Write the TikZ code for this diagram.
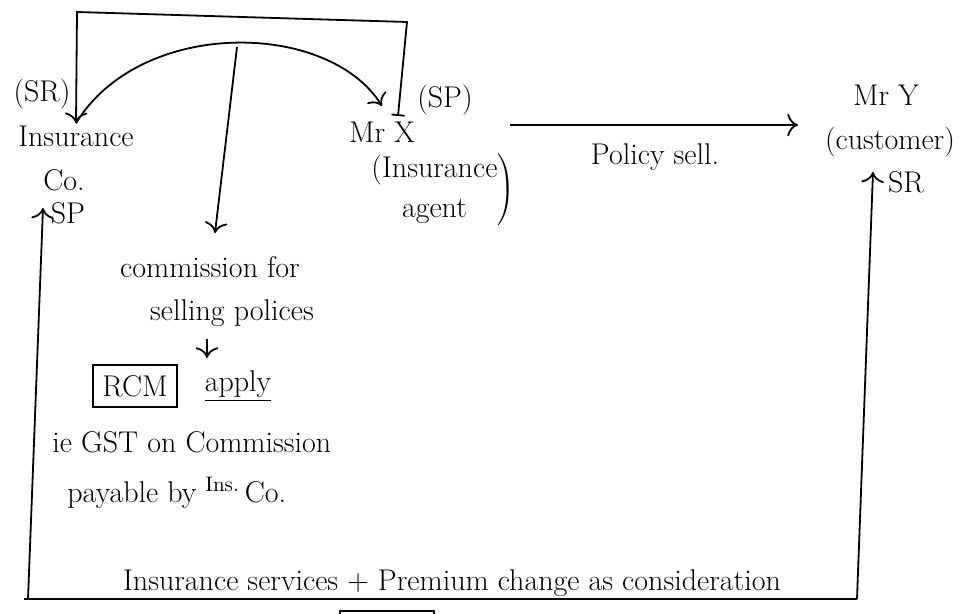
\documentclass[tikz,border=0pt]{standalone}
\usepackage{tikz}
\usetikzlibrary{calc,arrows.meta}
\tikzset{
	hand/.style={font=\fontsize{15}{18}\selectfont, inner sep=1pt},
	flow/.style={line width=0.9pt, >={To[scale=1.5]}},
}

\begin{document}
\begin{tikzpicture}[x=0.5pt, y=-0.5pt]
			%%%%% START %%%%%
			\useasboundingbox (0,0) rectangle (971,614);
			\clip (0,0) rectangle (971,614);
			
			\node[hand] (insco) at (76,136) {Insurance};
			\node[hand] (co) at (64,180) {Co.};
			\node[hand] (srTop) at (42,94) {(SR)};
			
			\node[hand] (mrx) at (382,132) {Mr X};
			\node[hand] (spTop) at (445,100) {(SP)};
			\node[hand] (agent) at (442,190) {$\left.\begin{tabular}{@{}c@{}}(Insurance\\[2pt]agent\end{tabular}\right)$};
			
			\node[hand] (mry) at (886,95) {Mr Y};
			\node[hand] (cust) at (890,142) {(customer)};
			\node[hand] (srBot) at (906,182) {SR};
			\node[hand] (spBot) at (68,213) {SP};
			
			\node[hand] (pol) at (655,157) {Policy sell.};
			
			\node[hand] (comm) at (210,267) {commission for};
			\node[hand] (sellp) at (232,313) {selling polices};
			\node[hand, draw, line width=0.9pt, minimum width=42pt, minimum height=21pt] (rcm) at (135,386) {RCM};
			\node[hand] (apply) at (238,386) {\underline{apply}};
			\node[hand, anchor=west] (gst) at (50,442) {ie GST on Commission};
			\node[hand, anchor=west] (pay) at (65,493) {payable by \textsuperscript{Ins.}\,Co.};
			
			\node[hand] (cons) at (452,583) {Insurance services + Premium change as consideration};
			
			% top bracket and arc
			\coordinate (tl) at (77,12);
			\coordinate (tr) at (407,22);
			\coordinate (xin) at (398,116);
			\coordinate (arcEnd) at (382,106);
			\coordinate (arcTop) at (237,47);
			\coordinate (commIn) at (215,233);
			\draw[flow, <-|] (insco.north) -- (tl) -- (tr) -- (xin);
			\draw[flow, ->] (insco.north) .. controls (140,18) and (328,20) .. (arcEnd);
			\draw[flow, ->] (arcTop) -- (commIn);
			
			% policy sale
			\coordinate (polA) at (510,125);
			\coordinate (polB) at (798,125);
			\draw[flow, ->] (polA) -- (polB);
			
			% small arrow to RCM
			\coordinate (dnA) at (207,339);
			\coordinate (dnB) at (207,358);
			\draw[flow, ->] (dnA) -- (dnB);
			
			% bottom loop
			\coordinate (bl) at (28,599);
			\coordinate (br) at (857,599);
			\coordinate (coIn) at (43,208);
			\coordinate (custIn) at (873,172);
			\draw[flow, ->] (bl) -- (coIn);
			\draw[flow, ->] (br) -- (custIn);
			\draw[flow] ([xshift=-2pt]bl) -- (br);
			
			\draw[flow] (340,611) rectangle (434,650);
			%%%%% END %%%%%
\end{tikzpicture}
\end{document}
